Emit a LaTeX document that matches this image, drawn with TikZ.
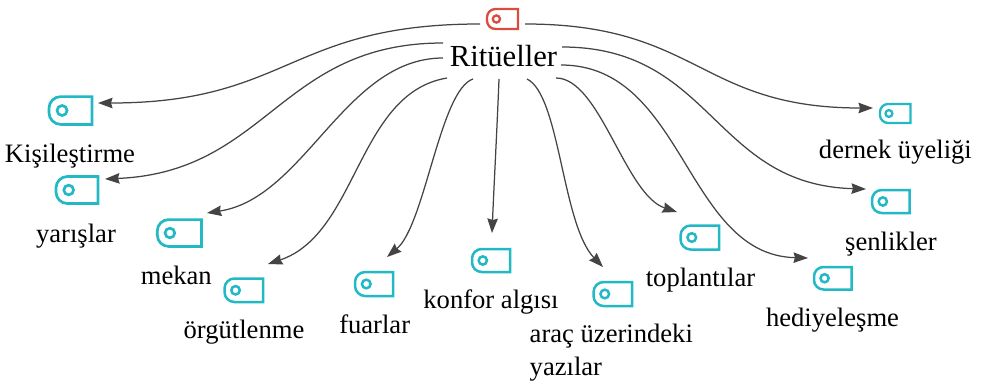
\documentclass[tikz,border=0pt]{standalone}
\usepackage{fontspec}
\setmainfont{Liberation Serif}
\usetikzlibrary{arrows.meta}
\definecolor{tealc}{HTML}{22B8C4}
\definecolor{redc}{HTML}{DC4C3E}
\definecolor{edgec}{HTML}{444444}
\tikzset{
  x=1pt,y=-1pt,
  lbl/.style={font=\fontsize{26.6pt}{33pt}\selectfont,text=black,inner sep=0pt,anchor=base},
  hub/.style={font=\fontsize{30.6pt}{32pt}\selectfont,text=black,inner sep=0pt,anchor=base},
  iconbox/.style={inner sep=0pt,outer sep=0pt,draw=none},
  conn/.style={draw=edgec,line width=1.25pt,-{Stealth[length=14.5pt,width=10.5pt,inset=1.5pt]}},
}
% name, x1, y1, x2, y2, colour, line width
\newcommand{\tagicon}[7]{%
  \node[iconbox,minimum width={#4-#2},minimum height={#5-#3}] (#1) at ({(#2+#4)/2},{(#3+#5)/2}) {};
  \pgfmathsetmacro{\tagh}{#5-#3}
  \draw[#6,line width=#7,line join=miter]
    (#4,#3) -- ({#2+0.42*\tagh},#3) .. controls ({#2+0.19*\tagh},#3) and (#2,{#3+0.19*\tagh}) .. (#2,{#3+0.42*\tagh})
    -- (#2,{#5-0.42*\tagh}) .. controls (#2,{#5-0.19*\tagh}) and ({#2+0.19*\tagh},#5) .. ({#2+0.42*\tagh},#5) -- (#4,#5) -- cycle;
  \draw[#6,line width=#7] ({#2+0.47*\tagh},{(#3+#5)/2}) circle ({0.18*\tagh});
}
\begin{document}
\begin{tikzpicture}
\useasboundingbox (0,0) rectangle (983,383);
\tagicon{root}{487}{9}{518}{29}{redc}{2.3pt}
\node[hub] (hubl) at (503.5,66.7) {Ritüeller};
\tagicon{ikisi}{49}{96.6}{92}{124.4}{tealc}{2.7pt}
\tagicon{iyar}{56}{176.5}{98}{203.5}{tealc}{2.7pt}
\tagicon{imek}{157.3}{219.6}{201.4}{246.4}{tealc}{2.7pt}
\tagicon{iorg}{224.5}{278.5}{263}{302}{tealc}{2.5pt}
\tagicon{ifua}{355}{272}{393}{296}{tealc}{2.5pt}
\tagicon{ikon}{472}{249}{510}{272}{tealc}{2.5pt}
\tagicon{iara}{593.5}{282}{632}{306}{tealc}{2.5pt}
\tagicon{itop}{680.5}{225.5}{719}{249.5}{tealc}{2.5pt}
\tagicon{ihed}{814}{267}{851.5}{289.5}{tealc}{2.5pt}
\tagicon{isen}{872}{190}{909.5}{213}{tealc}{2.5pt}
\tagicon{ider}{880}{104}{910.5}{123}{tealc}{2.3pt}
\node[lbl] (lkisi) at (70,162.7) {Kişileştirme};
\node[lbl] (lyar) at (76,242.3) {yarışlar};
\node[lbl] (lmek) at (176.3,284.3) {mekan};
\node[lbl] (lorg) at (244,338.3) {örgütlenme};
\node[lbl] (lfua) at (374.7,333.3) {fuarlar};
\node[lbl] (lkon) at (491,308.3) {konfor algısı};
\node[lbl,anchor=base west] (lara) at (529.5,342.7) {araç üzerindeki};
\node[lbl,anchor=base west] (lara2) at (529.5,375.7) {yazılar};
\node[lbl] (ltop) at (700.5,286.7) {toplantılar};
\node[lbl] (lhed) at (832.5,326.7) {hediyeleşme};
\node[lbl] (lsen) at (891,250) {şenlikler};
\node[lbl] (lder) at (895.4,158.3) {dernek üyeliği};
\coordinate (s1) at (480,24);
\coordinate (s2) at (525,24);
\coordinate (s3) at (443,43);
\coordinate (s4) at (443,58);
\coordinate (s5) at (447,78);
\coordinate (s6) at (473,79);
\coordinate (s7) at (499,79);
\coordinate (s8) at (527,79);
\coordinate (s9) at (556,78);
\coordinate (s10) at (561,65);
\coordinate (s11) at (562,47);
\coordinate (t1) at (98,103);
\coordinate (t2) at (105,179);
\coordinate (t3) at (207,213);
\coordinate (t4) at (268,264);
\coordinate (t5) at (387,257);
\coordinate (t6) at (492,233);
\coordinate (t7) at (603,267);
\coordinate (t8) at (677,212);
\coordinate (t9) at (808,258);
\coordinate (t10) at (866,189);
\coordinate (t11) at (873,108);
\draw[conn] (s1) .. controls (289,24) and (289,103) .. (t1);
\draw[conn] (s3) .. controls (280,43) and (268,172) .. (t2);
\draw[conn] (s4) .. controls (345,58) and (305,198) .. (t3);
\draw[conn] (s5) .. controls (357,93) and (358,234) .. (t4);
\draw[conn] (s6) .. controls (440,90) and (425,225) .. (t5);
\draw[conn] (s7) .. controls (497,130) and (494,185) .. (t6);
\draw[conn] (s8) .. controls (560,95) and (562,225) .. (t7);
\draw[conn] (s9) .. controls (600,78) and (625,195) .. (t8);
\draw[conn] (s10) .. controls (685,65) and (685,255) .. (t9);
\draw[conn] (s11) .. controls (713,47) and (713,185) .. (t10);
\draw[conn] (s2) .. controls (699,24) and (699,108) .. (t11);
\end{tikzpicture}
\end{document}
